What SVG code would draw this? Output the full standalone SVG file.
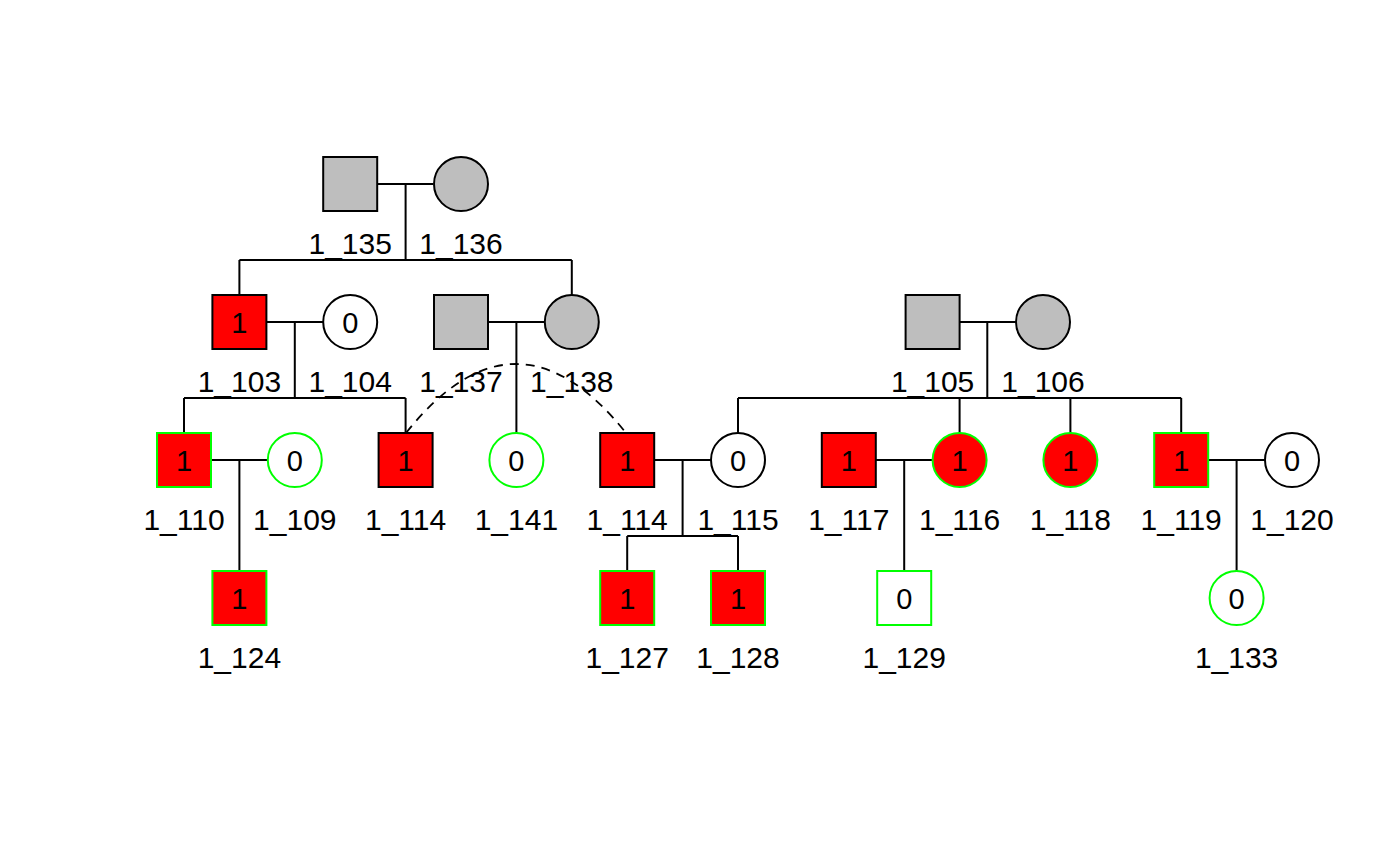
<svg xmlns="http://www.w3.org/2000/svg" width="1400" height="865" viewBox="0 0 1400 865">
<style>
.n{stroke:#000;stroke-width:2}
.g{stroke:#00FF00;stroke-width:2}
.gray{fill:#BEBEBE}
.red{fill:#FF0000}
.wh{fill:#FFFFFF}
.in{font-family:"Liberation Sans",Arial,sans-serif;font-size:29px;text-anchor:middle;fill:#000}
.lb{font-family:"Liberation Sans",Arial,sans-serif;font-size:30px;text-anchor:middle;fill:#000}
.ln{stroke:#000;stroke-width:2;fill:none}
</style>
<rect width="1400" height="865" fill="#fff"/>
<g id="connectors">
<path class="ln" d="M377,184H433M405.6,184V260M239.4,260H571.8M239.4,260V295M571.8,260V295"/>
<path class="ln" d="M266.4,322H323M294.8,322V398M184,398H405.6M184,398V433M405.6,398V433"/>
<path class="ln" d="M488,322H545M516.4,322V433"/>
<path class="ln" d="M959.6,322H1016M987.3,322V398M738,398H1181.2M738,398V433M959.6,398V433M1070.4,398V433M1181.2,398V433"/>
<path class="ln" d="M211,460H267.8M239.4,460V571"/>
<path class="ln" d="M654.2,460H711M682.6,460V536M627.2,536H738M627.2,536V571M738,536V571"/>
<path class="ln" d="M875.8,460H932.6M904.2,460V571"/>
<path class="ln" d="M1208.2,460H1265M1236.6,460V571"/>
<path d="M406,433Q516,295 626,433" fill="none" stroke="#000" stroke-width="1.8" stroke-dasharray="9 7"/>
</g>
<g id="n135"><rect class="n gray" x="323.2" y="157" width="54" height="54"/><text class="lb" x="350.2" y="254">1_135</text></g>
<g id="n136"><circle class="n gray" cx="461" cy="184" r="27"/><text class="lb" x="461" y="254">1_136</text></g>
<g id="n103"><rect class="n red" x="212.4" y="295" width="54" height="54"/><text class="in" x="239.4" y="333">1</text><text class="lb" x="239.4" y="392">1_103</text></g>
<g id="n104"><circle class="n wh" cx="350.2" cy="322" r="27"/><text class="in" x="350.2" y="333">0</text><text class="lb" x="350.2" y="392">1_104</text></g>
<g id="n137"><rect class="n gray" x="434" y="295" width="54" height="54"/><text class="lb" x="461" y="392">1_137</text></g>
<g id="n138"><circle class="n gray" cx="571.8" cy="322" r="27"/><text class="lb" x="571.8" y="392">1_138</text></g>
<g id="n105"><rect class="n gray" x="905.6" y="295" width="54" height="54"/><text class="lb" x="932.6" y="392">1_105</text></g>
<g id="n106"><circle class="n gray" cx="1043" cy="322" r="27"/><text class="lb" x="1043" y="392">1_106</text></g>
<g id="n110"><rect class="g red" x="157" y="433" width="54" height="54"/><text class="in" x="184" y="471">1</text><text class="lb" x="184" y="530">1_110</text></g>
<g id="n109"><circle class="g wh" cx="294.8" cy="460" r="27"/><text class="in" x="294.8" y="471">0</text><text class="lb" x="294.8" y="530">1_109</text></g>
<g id="n114a"><rect class="n red" x="378.6" y="433" width="54" height="54"/><text class="in" x="405.6" y="471">1</text><text class="lb" x="405.6" y="530">1_114</text></g>
<g id="n141"><circle class="g wh" cx="516.4" cy="460" r="27"/><text class="in" x="516.4" y="471">0</text><text class="lb" x="516.4" y="530">1_141</text></g>
<g id="n114b"><rect class="n red" x="600.2" y="433" width="54" height="54"/><text class="in" x="627.2" y="471">1</text><text class="lb" x="627.2" y="530">1_114</text></g>
<g id="n115"><circle class="n wh" cx="738" cy="460" r="27"/><text class="in" x="738" y="471">0</text><text class="lb" x="738" y="530">1_115</text></g>
<g id="n117"><rect class="n red" x="821.8" y="433" width="54" height="54"/><text class="in" x="848.8" y="471">1</text><text class="lb" x="848.8" y="530">1_117</text></g>
<g id="n116"><circle class="g red" cx="959.6" cy="460" r="27"/><text class="in" x="959.6" y="471">1</text><text class="lb" x="959.6" y="530">1_116</text></g>
<g id="n118"><circle class="g red" cx="1070.4" cy="460" r="27"/><text class="in" x="1070.4" y="471">1</text><text class="lb" x="1070.4" y="530">1_118</text></g>
<g id="n119"><rect class="g red" x="1154.2" y="433" width="54" height="54"/><text class="in" x="1181.2" y="471">1</text><text class="lb" x="1181.2" y="530">1_119</text></g>
<g id="n120"><circle class="n wh" cx="1292" cy="460" r="27"/><text class="in" x="1292" y="471">0</text><text class="lb" x="1292" y="530">1_120</text></g>
<g id="n124"><rect class="g red" x="212.4" y="571" width="54" height="54"/><text class="in" x="239.4" y="609">1</text><text class="lb" x="239.4" y="668">1_124</text></g>
<g id="n127"><rect class="g red" x="600.2" y="571" width="54" height="54"/><text class="in" x="627.2" y="609">1</text><text class="lb" x="627.2" y="668">1_127</text></g>
<g id="n128"><rect class="g red" x="711" y="571" width="54" height="54"/><text class="in" x="738" y="609">1</text><text class="lb" x="738" y="668">1_128</text></g>
<g id="n129"><rect class="g wh" x="877.2" y="571" width="54" height="54"/><text class="in" x="904.2" y="609">0</text><text class="lb" x="904.2" y="668">1_129</text></g>
<g id="n133"><circle class="g wh" cx="1236.6" cy="598" r="27"/><text class="in" x="1236.6" y="609">0</text><text class="lb" x="1236.6" y="668">1_133</text></g>
</svg>
